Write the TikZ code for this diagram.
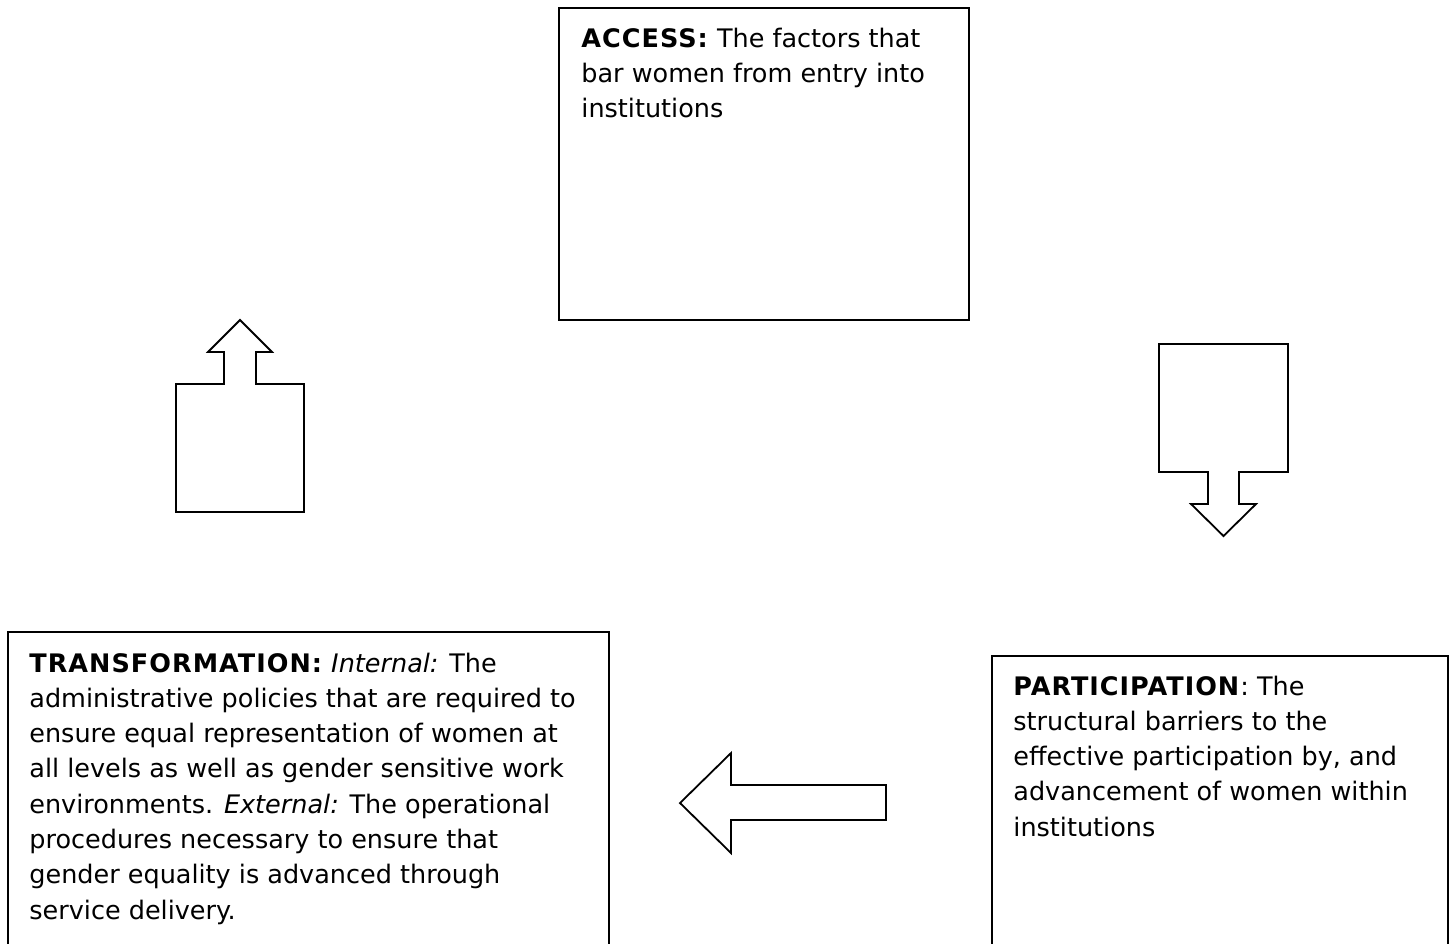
\documentclass[tikz,border=0pt]{standalone}
\usepackage{fontspec}
\setmainfont{DejaVu Sans}[BoldFeatures={LetterSpace=4}]
\usetikzlibrary{fit}
\tikzset{
  boxline/.style={draw=black, line width=1pt, inner sep=0pt, fit=#1},
  blockarrow/.style={draw=black, line width=0.9pt, line join=miter, fill=white},
  boxtext/.style={anchor=base west, inner sep=0pt, font=\fontsize{12.75pt}{17.65pt}\selectfont}
}
\begin{document}
\begin{tikzpicture}[x=0.5pt, y=-0.5pt]
\clip (0,0) rectangle (1454,943);
\fill[white] (0,0) rectangle (1454,943);

% ACCESS box
\coordinate (a1) at (559,8);
\coordinate (a2) at (969,320);
\node[boxline={(a1)(a2)}] (access) {};
\node[boxtext] (accesstext) at (581,47) {\vtop{\baselineskip=17.65pt
  \hbox{\textbf{ACCESS:} The factors that}
  \hbox{bar women from entry into}
  \hbox{institutions}}};

% TRANSFORMATION box
\coordinate (t1) at (8,632);
\coordinate (t2) at (609,970);
\node[boxline={(t1)(t2)}] (transformation) {};
\node[boxtext] (transformationtext) at (29,672) {\vtop{\baselineskip=17.65pt
  \hbox{\textbf{TRANSFORMATION:} \textit{Internal:} The}
  \hbox{administrative policies that are required to}
  \hbox{ensure equal representation of women at}
  \hbox{all levels as well as gender sensitive work}
  \hbox{environments. \textit{External:} The operational}
  \hbox{procedures necessary to ensure that}
  \hbox{gender equality is advanced through}
  \hbox{service delivery.}}};

% PARTICIPATION box
\coordinate (p1) at (992,656);
\coordinate (p2) at (1448,970);
\node[boxline={(p1)(p2)}] (participation) {};
\node[boxtext] (participationtext) at (1013,695) {\vtop{\baselineskip=17.65pt
  \hbox{\textbf{PARTICIPATION}: The}
  \hbox{structural barriers to the}
  \hbox{effective participation by, and}
  \hbox{advancement of women within}
  \hbox{institutions}}};

% up block arrow (left)
\draw[blockarrow] (240,320) -- (272,352) -- (256,352) -- (256,384) -- (304,384)
  -- (304,512) -- (176,512) -- (176,384) -- (224,384) -- (224,352) -- (208,352) -- cycle;

% down block arrow (right)
\draw[blockarrow] (1159,344) -- (1288,344) -- (1288,472) -- (1239,472) -- (1239,504)
  -- (1256,504) -- (1223.5,536) -- (1191,504) -- (1208,504) -- (1208,472) -- (1159,472) -- cycle;

% left block arrow (bottom)
\draw[blockarrow] (680,803) -- (731,753) -- (731,785) -- (886,785) -- (886,820)
  -- (731,820) -- (731,853) -- cycle;
\end{tikzpicture}
\end{document}
